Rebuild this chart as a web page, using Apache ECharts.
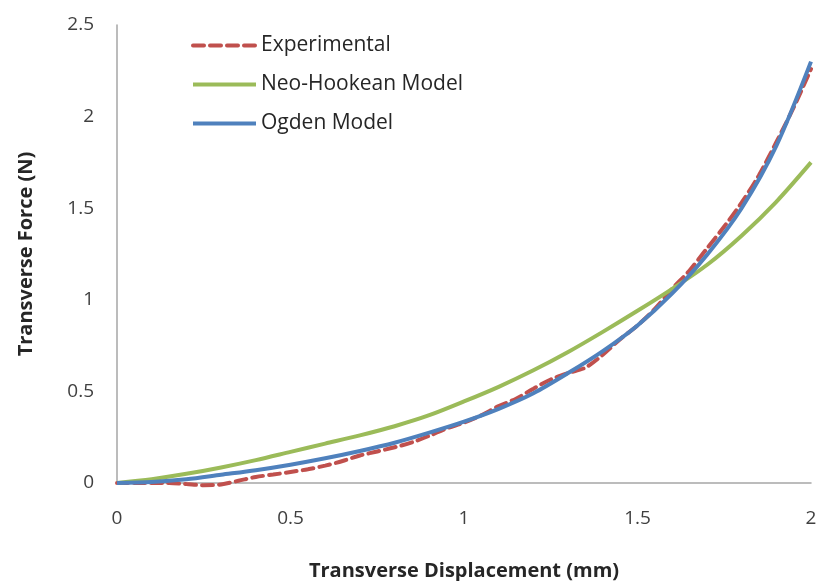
<!DOCTYPE html>
<html>
<head>
<meta charset="utf-8">
<title>Transverse Force vs Displacement</title>
<script src="https://cdn.jsdelivr.net/npm/echarts@6/dist/echarts.min.js"></script>
<style>
  html, body { margin: 0; padding: 0; background: #ffffff; }
  #chart { width: 819px; height: 581px; }
</style>
</head>
<body>
<div id="chart"></div>
<script>
// Displacement samples (mm)
const displacement = [0, 0.05, 0.1, 0.15, 0.2, 0.25, 0.3, 0.35, 0.4, 0.45, 0.5, 0.55, 0.6, 0.65, 0.7, 0.75, 0.8, 0.85, 0.9, 0.95, 1.0,
  1.05, 1.1, 1.15, 1.2, 1.25, 1.3, 1.35, 1.4, 1.45, 1.5, 1.55, 1.6, 1.65, 1.7, 1.75, 1.8, 1.85, 1.9, 1.95, 2.0];

// Measured force (N)
const experimental = [0, 0, 0, 0, -0.006, -0.012, -0.008, 0.012, 0.033, 0.046, 0.06, 0.075, 0.095, 0.12, 0.15, 0.172, 0.195, 0.222, 0.258, 0.298, 0.33,
  0.37, 0.42, 0.46, 0.515, 0.565, 0.6, 0.63, 0.7, 0.785, 0.86, 0.95, 1.06, 1.16, 1.28, 1.4, 1.53, 1.68, 1.86, 2.05, 2.26];

// Model predictions on a 0.1 mm step
const modelDisplacement = [0, 0.1, 0.2, 0.3, 0.4, 0.5, 0.6, 0.7, 0.8, 0.9, 1.0, 1.1, 1.2, 1.3, 1.4, 1.5, 1.6, 1.7, 1.8, 1.9, 2.0];
const neoHookean = [0, 0.02, 0.05, 0.085, 0.125, 0.17, 0.215, 0.26, 0.31, 0.37, 0.445, 0.525, 0.615, 0.715, 0.825, 0.94, 1.06, 1.19, 1.35, 1.535, 1.75];
const ogden = [0, 0.005, 0.02, 0.045, 0.07, 0.1, 0.135, 0.175, 0.22, 0.275, 0.335, 0.405, 0.49, 0.6, 0.72, 0.86, 1.035, 1.245, 1.5, 1.84, 2.3];

// Axis ticks
const xTicks = [0, 0.5, 1, 1.5, 2];
const yTicks = [0, 0.5, 1, 1.5, 2, 2.5];

const seriesNames = ['Experimental', 'Neo-Hookean Model', 'Ogden Model'];

const pair = (xs, ys) => xs.map((x, i) => [x, ys[i]]);

const FONT = '"Open Sans", "Liberation Sans", sans-serif';
const TEXT = '#404040';

const chart = echarts.init(document.getElementById('chart'), null, { renderer: 'canvas' });

chart.setOption({
  animation: false,
  backgroundColor: '#ffffff',
  grid: { left: 117, right: 8, top: 25, bottom: 98, containLabel: false, outerBoundsMode: 'none' },
  legend: {
    orient: 'vertical',
    left: 186,
    top: 30,
    itemWidth: 63,
    itemHeight: 20,
    itemGap: 18,
    data: seriesNames,
    itemStyle: { opacity: 0 },
    lineStyle: { width: 4 },
    textStyle: { fontFamily: FONT, fontSize: 21, color: '#262626', padding: [0, 0, 0, 0] }
  },
  xAxis: {
    type: 'value',
    min: xTicks[0],
    max: xTicks[xTicks.length - 1],
    interval: 0.5,
    name: 'Transverse Displacement (mm)',
    nameLocation: 'middle',
    nameGap: 78,
    nameTextStyle: { fontFamily: FONT, fontSize: 20, fontWeight: 'bold', color: '#262626' },
    axisLine: { show: true, lineStyle: { color: '#A6A6A6', width: 1.5 } },
    axisTick: { show: false },
    splitLine: { show: false },
    axisLabel: {
      fontFamily: FONT, fontSize: 19, color: TEXT, margin: 26,
      formatter: v => String(v)
    }
  },
  yAxis: {
    type: 'value',
    min: yTicks[0],
    max: yTicks[yTicks.length - 1],
    interval: 0.5,
    name: 'Transverse Force (N)',
    nameLocation: 'middle',
    nameGap: 81,
    nameTextStyle: { fontFamily: FONT, fontSize: 20, fontWeight: 'bold', color: '#262626' },
    axisLine: { show: true, lineStyle: { color: '#A6A6A6', width: 1.5 } },
    axisTick: { show: false },
    splitLine: { show: false },
    axisLabel: {
      fontFamily: FONT, fontSize: 19, color: TEXT, margin: 23,
      formatter: v => String(v)
    }
  },
  series: [
    {
      name: seriesNames[0],
      type: 'line',
      data: pair(displacement, experimental),
      smooth: 0.3,
      symbol: 'none',
      clip: false,
      z: 2,
      itemStyle: { color: '#C0504D' },
      lineStyle: { color: '#C0504D', width: 4, type: [11, 6], cap: 'round' }
    },
    {
      name: seriesNames[1],
      type: 'line',
      data: pair(modelDisplacement, neoHookean),
      smooth: 0.3,
      symbol: 'none',
      z: 3,
      itemStyle: { color: '#9BBB59' },
      lineStyle: { color: '#9BBB59', width: 4 }
    },
    {
      name: seriesNames[2],
      type: 'line',
      data: pair(modelDisplacement, ogden),
      smooth: 0.3,
      symbol: 'none',
      z: 4,
      itemStyle: { color: '#4F81BD' },
      lineStyle: { color: '#4F81BD', width: 4 }
    }
  ]
});
</script>
</body>
</html>
